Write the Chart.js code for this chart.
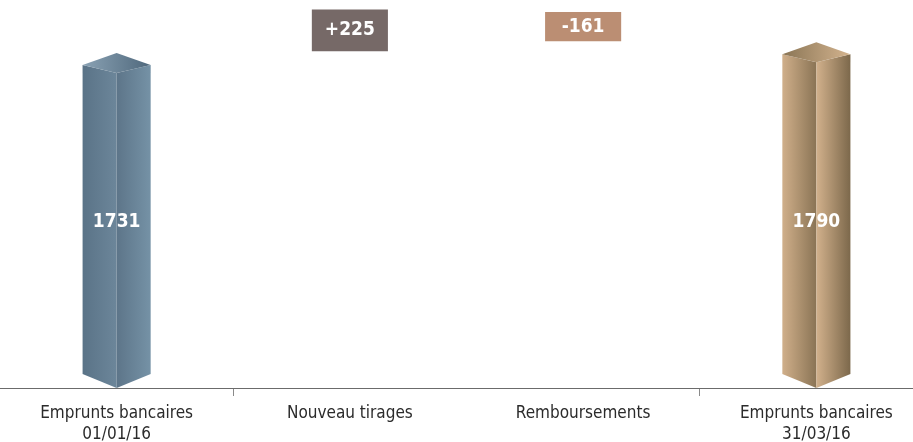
<!DOCTYPE html>
<html>
<head>
<meta charset="utf-8">
<script src="https://cdn.jsdelivr.net/npm/chart.js@4"></script>
<style>
  html, body { margin: 0; padding: 0; background: #fff; overflow: hidden; }
  #wrap { width: 933px; height: 442px; }
</style>
</head>
<body>
<div id="wrap"><canvas id="waterfall" width="933" height="442"></canvas></div>
<script>
const categories = [
    ["Emprunts bancaires", "01/01/16"],
    "Nouveau tirages",
    "Remboursements",
    ["Emprunts bancaires", "31/03/16"]
];
const valueLabels = ["1731", "+225", "-161", "1790"];
// bar extents (start, end)
const barStart = [0, 1850, 2066, 0];
const barEnd = [1731, 2080, 1905, 1790];
const boxColors = ["rgba(0,0,0,0)", "#766967", "#bb8e73", "rgba(0,0,0,0)"];

const LABEL_FONT = "'Liberation Sans Narrow', 'DejaVu Sans Condensed', sans-serif";

// colours for the two 3d columns: [left face stops], [right face stops], [top stops]
const prismStyles = {
    0: {
        left: ["#5a7387", "#6c869a"],
        right: ["#5d7589", "#7592a6"],
        top: ["#8aa2b4", "#4f687c"]
    },
    3: {
        left: ["#d0af8a", "#8a7455"],
        right: ["#d2b18c", "#7c684b"],
        top: ["#8a7555", "#d3b38e"]
    }
};

function grad(ctx, x0, x1, stops) {
    const g = ctx.createLinearGradient(x0, 0, x1, 0);
    g.addColorStop(0, stops[0]);
    g.addColorStop(1, stops[1]);
    return g;
}

function poly(ctx, pts, fill) {
    ctx.beginPath();
    ctx.moveTo(pts[0][0], pts[0][1]);
    for (let i = 1; i < pts.length; i++) ctx.lineTo(pts[i][0], pts[i][1]);
    ctx.closePath();
    ctx.fillStyle = fill;
    ctx.fill();
}

const prismPlugin = {
    id: "prisms",
    afterDatasetsDraw(chart) {
        const ctx = chart.ctx;
        const meta = chart.getDatasetMeta(0);
        meta.data.forEach((el, i) => {
            const st = prismStyles[i];
            ctx.save();
            ctx.fillStyle = "#fff";
            ctx.font = "bold 19px " + LABEL_FONT;
            ctx.textAlign = "center";
            ctx.textBaseline = "middle";
            if (st) {
                const cx = el.x;
                const w = el.width * 34 / 76;
                const yTop = el.y;
                const base = el.base;
                poly(ctx, [[cx - w, yTop - 8], [cx, yTop], [cx, base], [cx - w, base - 14]],
                    grad(ctx, cx - w, cx, st.left));
                poly(ctx, [[cx, yTop], [cx + w, yTop - 8], [cx + w, base - 14], [cx, base]],
                    grad(ctx, cx, cx + w, st.right));
                poly(ctx, [[cx - w, yTop - 8], [cx, yTop - 20], [cx + w, yTop - 8], [cx, yTop]],
                    grad(ctx, cx - w, cx + w, st.top));
                ctx.fillStyle = "#fff";
                ctx.fillText(valueLabels[i], cx, base - 166);
            } else {
                ctx.fillText(valueLabels[i], el.x, (el.y + el.base) / 2);
            }
            ctx.restore();
        });
    }
};

document.addEventListener("DOMContentLoaded", () => {
    const ctx = document.getElementById("waterfall").getContext("2d");
    const chart = new Chart(ctx, {
        type: "bar",
        data: {
            labels: categories,
            datasets: [{
                data: barStart.map((s, i) => [s, barEnd[i]]),
                backgroundColor: boxColors,
                borderWidth: 0,
                borderSkipped: false,
                barPercentage: 76 / 233,
                categoryPercentage: 1
            }]
        },
        options: {
            responsive: false,
            animation: false,
            layout: { padding: 0 },
            scales: {
                y: {
                    display: false,
                    min: 0,
                    max: 2132
                },
                x: {
                    afterFit: (scale) => { scale.height = 54; },
                    border: { display: true, color: "#6b6b6b", width: 1 },
                    grid: {
                        drawOnChartArea: false,
                        drawTicks: true,
                        tickLength: 8,
                        color: (c) => (c.index === 1 || c.index === 3) ? "#8a8a8a" : "rgba(0,0,0,0)"
                    },
                    ticks: {
                        color: "#2b2b2b",
                        padding: 7,
                        maxRotation: 0,
                        autoSkip: false,
                        font: { family: LABEL_FONT, size: 17, lineHeight: 1.25 }
                    }
                }
            },
            plugins: {
                legend: { display: false },
                tooltip: { enabled: false }
            }
        },
        plugins: [prismPlugin]
    });
});
</script>
</body>
</html>
